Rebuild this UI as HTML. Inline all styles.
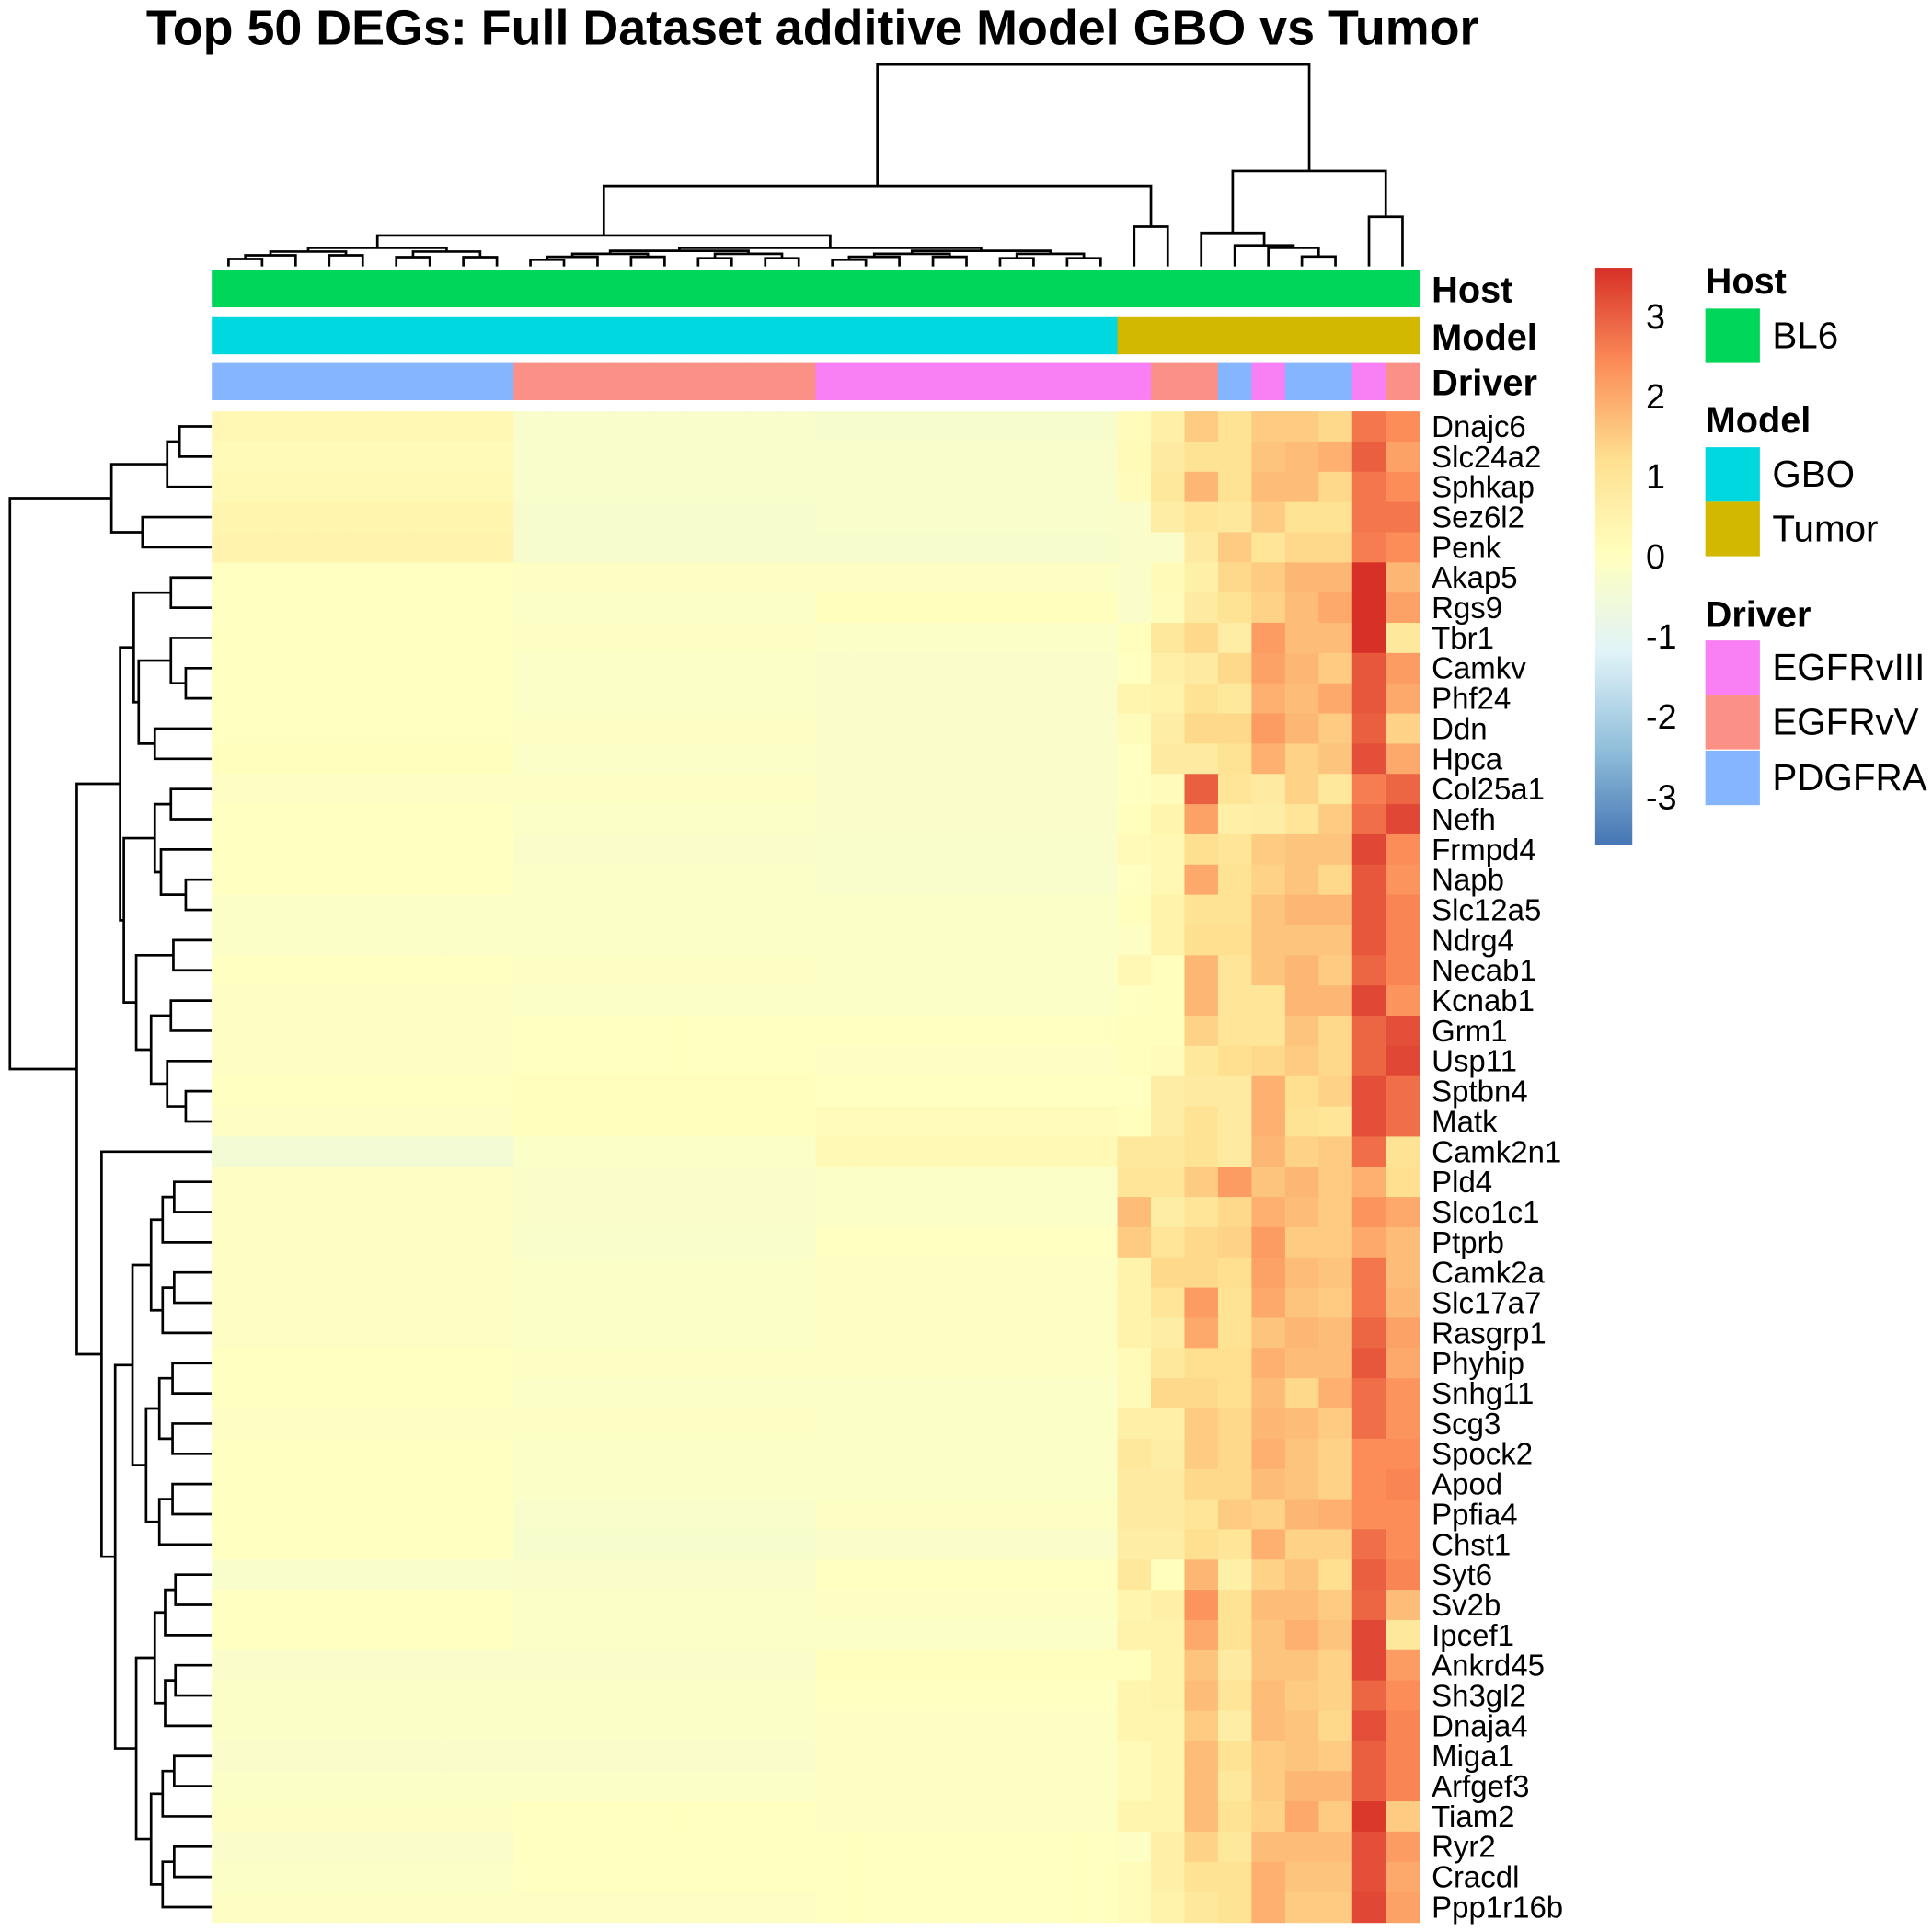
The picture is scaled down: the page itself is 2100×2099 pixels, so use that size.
<!DOCTYPE html>
<html><head><meta charset="utf-8"><style>
html,body{margin:0;padding:0;background:#fff;}
svg{display:block;font-family:"Liberation Sans",Arial,sans-serif;}
</style></head><body>
<svg id="chart" width="2100" height="2099" viewBox="0 0 1560 1559" xmlns="http://www.w3.org/2000/svg">
<text x="118" y="36" font-size="40" font-weight="bold">Top 50 DEGs: Full Dataset additive Model GBO vs Tumor</text>
<g id="coldend"></g>
<g id="rowdend"></g>
<g id="annot"></g>
<g id="cells"></g>
<g id="genes"></g>
<g id="legend"></g>
</svg>
<script>
const genes=["Dnajc6","Slc24a2","Sphkap","Sez6l2","Penk","Akap5","Rgs9","Tbr1","Camkv","Phf24","Ddn","Hpca","Col25a1","Nefh","Frmpd4","Napb","Slc12a5","Ndrg4","Necab1","Kcnab1","Grm1","Usp11","Sptbn4","Matk","Camk2n1","Pld4","Slco1c1","Ptprb","Camk2a","Slc17a7","Rasgrp1","Phyhip","Snhg11","Scg3","Spock2","Apod","Ppfia4","Chst1","Syt6","Sv2b","Ipcef1","Ankrd45","Sh3gl2","Dnaja4","Miga1","Arfgef3","Tiam2","Ryr2","Cracdl","Ppp1r16b"];
const colDriver=["PDGFRA","PDGFRA","PDGFRA","PDGFRA","PDGFRA","PDGFRA","PDGFRA","PDGFRA","PDGFRA","EGFRvV","EGFRvV","EGFRvV","EGFRvV","EGFRvV","EGFRvV","EGFRvV","EGFRvV","EGFRvV","EGFRvIII","EGFRvIII","EGFRvIII","EGFRvIII","EGFRvIII","EGFRvIII","EGFRvIII","EGFRvIII","EGFRvIII","EGFRvIII","EGFRvV","EGFRvV","PDGFRA","EGFRvIII","PDGFRA","PDGFRA","EGFRvIII","EGFRvV"];
const colModel=Array(27).fill("GBO").concat(Array(9).fill("Tumor"));
// GBO group means per gene
const gboPDGFRA=[0.3,0.2,0.25,0.4,0.45,-0.05,-0.05,0.0,0.0,0.0,0.0,0.05,-0.1,-0.05,0.0,-0.05,-0.15,-0.15,-0.05,-0.1,-0.1,-0.1,-0.05,-0.1,-0.45,-0.1,-0.1,-0.1,-0.1,-0.1,-0.1,-0.05,-0.05,-0.1,-0.05,-0.05,0.0,-0.05,-0.25,-0.05,-0.05,-0.2,-0.15,-0.15,-0.2,-0.15,-0.1,-0.2,-0.15,-0.1];
const gboEGFRvV=[-0.25,-0.25,-0.25,-0.3,-0.3,-0.1,-0.15,-0.1,-0.15,-0.15,-0.1,-0.15,-0.1,-0.15,-0.2,-0.15,-0.15,-0.15,-0.1,-0.15,0.0,0.0,0.05,0.05,-0.15,-0.2,-0.2,-0.25,-0.15,-0.15,-0.15,-0.1,-0.15,-0.1,-0.15,-0.15,-0.25,-0.3,-0.2,-0.15,-0.15,-0.2,-0.15,-0.15,-0.2,-0.15,0.0,-0.05,-0.05,-0.1];
const gboEGFRvIII=[-0.3,-0.25,-0.25,-0.25,-0.3,-0.1,0.05,-0.15,-0.2,-0.2,-0.2,-0.2,-0.2,-0.2,-0.25,-0.25,-0.15,-0.15,-0.15,-0.15,-0.05,-0.1,-0.05,0.1,0.25,-0.15,-0.15,-0.05,-0.1,-0.1,-0.1,-0.1,-0.15,-0.15,-0.15,-0.15,-0.1,-0.2,-0.05,-0.1,-0.15,0.05,-0.05,-0.1,-0.1,-0.1,-0.1,0.0,0.0,0.0];
const tumorVals=[
[0.1,0.6,1.5,1.1,1.5,1.5,1.3,2.7,2.4],[0.2,0.8,1.1,1.1,1.6,1.7,1.9,3.0,2.1],[0.1,0.9,1.8,1.1,1.7,1.7,1.3,2.7,2.4],[-0.2,0.7,1.0,0.9,1.5,1.1,1.1,2.7,2.7],[-0.2,-0.2,0.8,1.5,1.0,1.3,1.3,2.6,2.4],
[-0.2,0.2,0.6,1.3,1.5,1.8,1.8,3.6,1.8],[-0.2,0.1,0.8,1.1,1.4,1.7,2.0,3.6,2.1],[0.05,0.9,1.3,0.7,2.2,1.7,1.7,3.6,0.9],[0,0.6,0.8,1.3,2.1,1.8,1.5,3.1,2.2],[0.4,0.5,1.1,0.9,1.9,1.7,2.0,3.1,2.0],
[0.1,0.7,1.3,1.3,2.2,1.8,1.5,3.0,1.4],[-0.05,0.8,0.8,1.1,1.9,1.4,1.6,3.2,2.0],[-0.05,0.1,3.0,1.0,0.8,1.4,0.9,2.6,2.9],[0.05,0.4,2.1,0.6,0.7,1.0,1.5,2.8,3.3],[0.2,0.3,1.2,1.0,1.5,1.6,1.6,3.3,2.4],
[-0.05,0.3,2.0,1.1,1.4,1.6,1.3,3.1,2.3],[0.05,0.5,1.1,1.1,1.6,1.8,1.8,3.1,2.5],[-0.1,0.5,1.2,1.2,1.6,1.6,1.6,3.1,2.5],[0.3,0.05,1.8,1.0,1.6,1.8,1.5,2.9,2.5],[-0.05,0.05,1.8,1.0,1.0,1.8,1.8,3.3,2.3],
[0.05,0.05,1.4,1.0,1.0,1.6,1.3,2.9,3.2],[0.05,0.1,0.9,1.2,1.3,1.5,1.3,2.9,3.3],[-0.05,0.7,0.8,0.8,1.9,1.2,1.4,3.2,2.8],[0.05,0.7,1.1,0.8,1.9,1.1,1.0,3.2,2.8],[0.9,0.9,1.1,0.8,1.8,1.4,1.5,2.8,1.1],
[1.0,1.0,1.5,2.2,1.6,1.8,1.5,1.9,1.2],[1.7,0.7,1.0,1.3,1.9,1.7,1.5,2.3,2.0],[1.5,1.0,1.3,1.4,2.2,1.5,1.5,2.0,1.7],[0.5,1.3,1.3,1.2,2.1,1.7,1.6,2.7,1.7],[0.5,1.0,2.2,1.1,2.0,1.6,1.5,2.7,1.8],
[0.5,0.7,2.0,1.1,1.6,1.8,1.7,2.9,2.1],[0.2,0.9,1.2,1.2,1.9,1.7,1.7,3.1,2.0],[0.2,1.3,1.3,1.2,1.7,1.3,1.9,2.8,2.3],[0.6,0.6,1.5,1.3,1.8,1.7,1.5,2.8,2.3],[0.9,0.7,1.5,1.3,1.9,1.6,1.4,2.4,2.4],
[0.8,0.8,1.3,1.3,1.7,1.6,1.4,2.4,2.5],[0.8,0.8,1.0,1.5,1.4,1.8,1.9,2.4,2.4],[0.7,0.7,1.2,1.0,1.9,1.4,1.4,2.8,2.4],[0.9,0.05,1.8,0.6,1.4,1.6,1.2,3.0,2.5],[0.4,0.6,2.3,1.1,1.7,1.7,1.5,2.9,1.7],
[0.5,0.5,2.0,1.1,1.6,1.9,1.6,3.3,0.9],[0.05,0.5,1.6,0.8,1.6,1.6,1.4,3.3,2.2],[0.4,0.5,1.7,1.0,1.7,1.5,1.4,2.9,2.4],[0.4,0.4,1.5,0.7,1.7,1.6,1.3,3.2,2.5],[0.2,0.4,1.7,1.1,1.5,1.6,1.5,3.0,2.5],
[0.2,0.4,1.7,0.9,1.5,1.8,1.8,3.0,2.5],[0.4,0.4,1.7,1.1,1.4,2.0,1.5,3.5,1.5],[-0.1,0.6,1.4,0.9,1.7,1.7,1.7,3.2,2.2],[0.1,0.6,1.1,1.1,1.9,1.6,1.6,3.2,2.0],[0.1,0.5,0.9,1.1,1.9,1.5,1.5,3.3,2.1]];
const legendTicks=[3,2,1,0,-1,-2,-3];

const NS="http://www.w3.org/2000/svg";
const X0=171,X1=1146,Y0=332,Y1=1552,NC=36,NR=50;
const cw=(X1-X0)/NC,rh=(Y1-Y0)/NR;
const xCol=i=>X0+i*cw, yRow=j=>Y0+j*rh;
const VMIN=-3.6,VMAX=3.6;
const stops=["#4575B4","#91BFDB","#E0F3F8","#FFFFBF","#FEE090","#FC8D59","#D73027"];
function hex(c){return [1,3,5].map(k=>parseInt(c.substr(k,2),16));}
function color(v){let t=(Math.max(VMIN,Math.min(VMAX,v))-VMIN)/(VMAX-VMIN)*(stops.length-1);let i=Math.min(Math.floor(t),stops.length-2),f=t-i;const a=hex(stops[i]),b=hex(stops[i+1]);return "rgb("+a.map((x,k)=>Math.round(x+(b[k]-x)*f)).join(",")+")";}
const yLeg=v=>449-v*64.7;
function mk(tag,attrs,parent){const e=document.createElementNS(NS,tag);for(const k in attrs)e.setAttribute(k,attrs[k]);parent.appendChild(e);return e;}
function value(r,c){if(c>=27)return tumorVals[r][c-27];const d=colDriver[c];return d==="PDGFRA"?gboPDGFRA[r]:(d==="EGFRvV"?gboEGFRvV[r]:gboEGFRvIII[r]);}
const cells=document.getElementById("cells");
for(let r=0;r<NR;r++)for(let c=0;c<NC;c++){
 const e=mk("rect",{x:xCol(c),y:yRow(r),width:cw+0.6,height:rh+0.6,fill:color(value(r,c))},cells);
 
 
}
const gl=document.getElementById("genes");
genes.forEach((g,r)=>{const t=mk("text",{x:1156,y:yRow(r)+rh/2+8.5,"font-size":24.5},gl);t.textContent=g;
 
 });
const drvCol={EGFRvIII:"#F97FF4",EGFRvV:"#FB9087",PDGFRA:"#85B5FF"};
const modCol={GBO:"#00D8E0",Tumor:"#D3B800"};
const an=document.getElementById("annot");
for(let c=0;c<NC;c++){
 let e=mk("rect",{x:xCol(c),y:218,width:cw+0.6,height:30,fill:"#00D65A"},an);
 
 e=mk("rect",{x:xCol(c),y:256,width:cw+0.6,height:30,fill:modCol[colModel[c]]},an);
 
 e=mk("rect",{x:xCol(c),y:293,width:cw+0.6,height:30,fill:drvCol[colDriver[c]]},an);
 
}
[["Host",244],["Model",282],["Driver",319]].forEach(([t,y])=>{const e=mk("text",{x:1156,y:y,"font-size":29.5,"font-weight":"bold"},an);e.textContent=t;
 });
// legend
const lg=document.getElementById("legend");
const defs=mk("defs",{},lg);const grad=mk("linearGradient",{id:"lgGrad",x1:0,y1:1,x2:0,y2:0},defs);
stops.forEach((s,i)=>mk("stop",{offset:i/(stops.length-1),"stop-color":s},grad));
let cb=mk("rect",{x:1288,y:yLeg(VMAX),width:30,height:yLeg(VMIN)-yLeg(VMAX),fill:"url(#lgGrad)"},lg);

legendTicks.forEach(v=>{const e=mk("text",{x:1329,y:yLeg(v)+10,"font-size":28},lg);e.textContent=v;
 });
const legItems=[["Host",237,[["BL6","#00D65A",249]]],["Model",349,[["GBO","#00D8E0",361],["Tumor","#D3B800",405]]],["Driver",506,[["EGFRvIII","#F97FF4",517],["EGFRvV","#FB9087",561],["PDGFRA","#85B5FF",606]]]];
legItems.forEach(([title,ty,items])=>{const t=mk("text",{x:1377,y:ty,"font-size":29.5,"font-weight":"bold"},lg);t.textContent=title;
 
 items.forEach(([lab,col,y])=>{const r=mk("rect",{x:1377,y:y,width:44,height:44,fill:col},lg);
  
  const tx=mk("text",{x:1431,y:y+32,"font-size":30},lg);tx.textContent=lab;
  });});
// dendrograms
function N(h,a,b){return {h:h,c:[a,b]};}
function bal(lo,hi,hTop,hLeaf){if(lo===hi)return lo;const mid=Math.floor((lo+hi)/2);const step=(hLeaf-hTop)/Math.max(1,Math.ceil(Math.log2(hi-lo+1)));return N(hTop,bal(lo,mid,hTop+step,hLeaf),bal(mid+1,hi,hTop+step,hLeaf));}
function draw(node,g,pos,leafH,horiz){
 if(typeof node==="number")return {p:pos(node),h:leafH};
 const a=draw(node.c[0],g,pos,leafH,horiz),b=draw(node.c[1],g,pos,leafH,horiz);
 const d=horiz?`M${a.h},${a.p}H${node.h}V${b.p}H${b.h}`:`M${a.p},${a.h}V${node.h}H${b.p}V${b.h}`;
 mk("path",{d:d,fill:"none",stroke:"#000","stroke-width":2},g);
 return {p:(a.p+b.p)/2,h:node.h};
}
const colTree=N(52,
 N(150,N(190,bal(0,8,200,212),bal(9,26,200,212)),N(183,27,28)),
 N(138,N(188,29,N(198,30,N(200,31,N(207,32,33)))),N(175,34,35)));
draw(colTree,document.getElementById("coldend"),i=>xCol(i)+cw/2,215,false);
const rowTree=N(8,
 N(90,N(135,N(145,0,1),2),N(115,3,4)),
 N(62,
  N(97,N(108,N(138,5,6),N(112,N(138,7,N(150,8,9)),N(125,10,11))),N(100,N(125,N(138,12,13),N(130,14,N(150,15,16))),N(110,N(140,17,18),N(122,N(138,19,20),N(135,21,N(150,22,23)))))),
  N(82,24,N(93,N(107,bal(25,30,122,150),bal(31,37,118,150)),N(110,bal(38,43,125,150),bal(44,49,122,150))))));
draw(rowTree,document.getElementById("rowdend"),j=>yRow(j)+rh/2,171,true);
</script>
</body></html>
